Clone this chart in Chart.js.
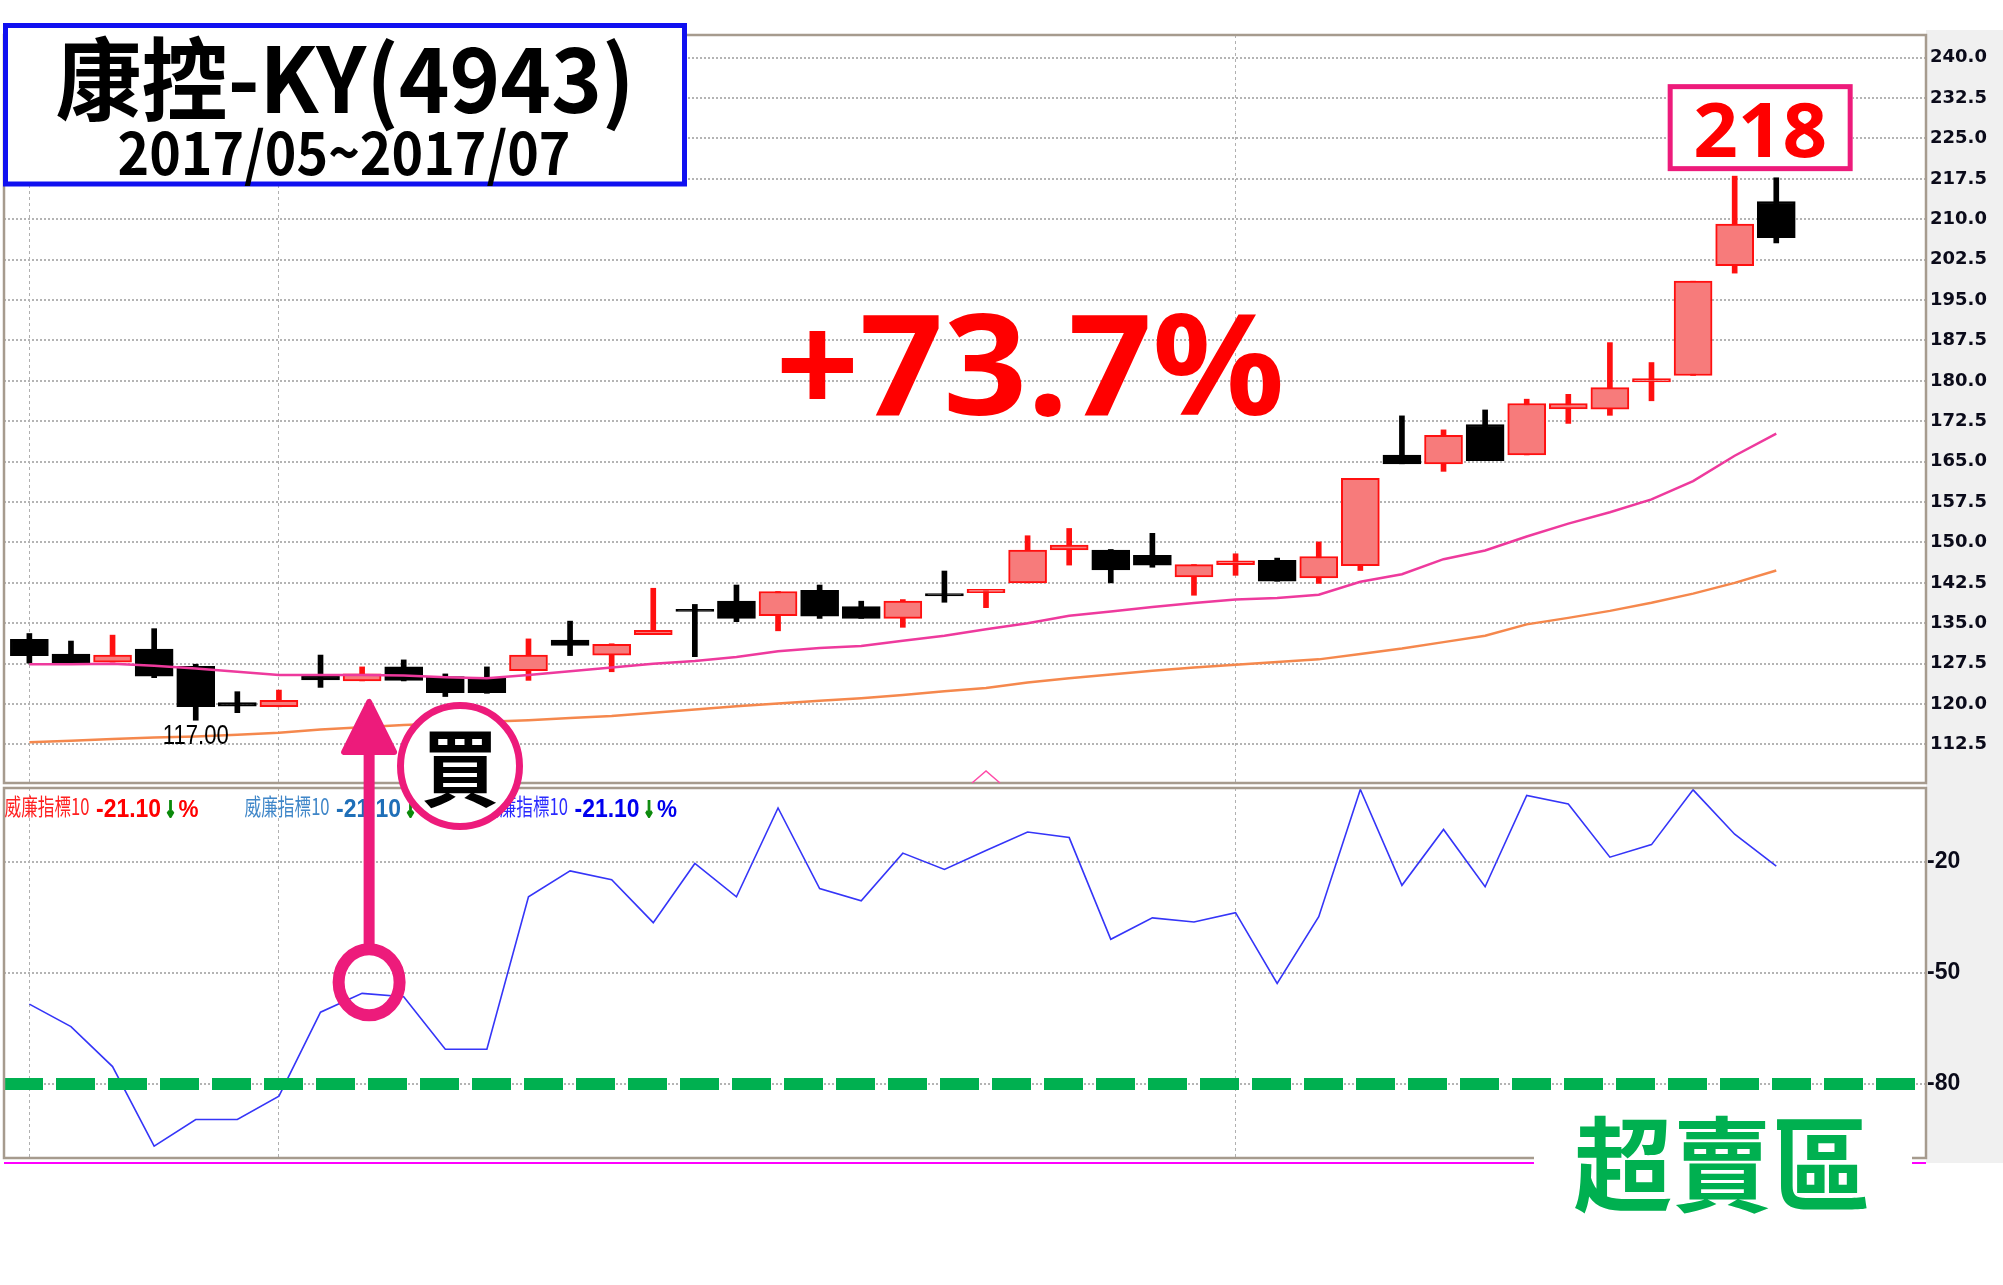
<!DOCTYPE html>
<html>
<head>
<meta charset="utf-8">
<title>康控-KY(4943)</title>
<script src="https://cdn.jsdelivr.net/npm/chart.js@4.4.1/dist/chart.umd.min.js"></script>
<style>
  html, body { margin: 0; padding: 0; background: #fff; }
  #wrap { position: relative; width: 2003px; height: 1285px; overflow: hidden; background: #fff; }
  #axisBg { position: absolute; left: 1926px; top: 30px; width: 77px; height: 1133px; background: #f0f0f0; }
  canvas { position: absolute; left: 0; }
  #upper { top: 0; }
  #lower { top: 770px; }
  #overlay { top: 0; pointer-events: none; }
</style>
</head>
<body>
<div id="wrap">
  <div id="axisBg"></div>
  <canvas id="upper" width="2003" height="800"></canvas>
  <canvas id="lower" width="2003" height="515"></canvas>
  <canvas id="overlay" width="2003" height="1285"></canvas>
</div>
<script>
'use strict';

// daily candles (red = up, black = down)
var opens  = [132.0, 129.3, 127.8, 130.2, 127.0, 120.3, 119.5, 125.3, 124.3, 126.9, 125.1, 124.9, 126.2, 131.9, 129.1, 132.9, 137.5, 139.1, 136.4, 141.1, 138.1, 135.9, 140.5, 140.7, 142.5, 148.6, 148.6, 147.6, 143.6, 145.9, 146.7, 143.4, 145.7, 166.2, 164.6, 171.9, 166.25, 174.8, 174.75, 179.8, 181.0, 201.4, 213.3];
var highs  = [133.1, 131.7, 132.8, 134.0, 127.4, 122.3, 122.6, 129.1, 126.9, 128.2, 125.6, 126.9, 132.1, 135.4, 131.2, 141.5, 138.5, 142.1, 140.9, 142.1, 139.1, 139.4, 144.7, 141.3, 151.25, 152.6, 148.7, 151.7, 145.9, 147.9, 147.1, 150.1, 161.9, 173.5, 170.9, 174.6, 176.6, 177.5, 187.1, 183.4, 198.5, 218.0, 217.7];
var lows   = [127.6, 127.5, 127.8, 124.9, 117.0, 118.4, 119.5, 123.1, 124.3, 124.3, 121.4, 122.0, 124.4, 129.0, 126.0, 132.9, 128.8, 135.3, 133.6, 135.9, 135.9, 134.25, 138.9, 137.9, 142.5, 145.8, 142.5, 145.4, 140.2, 143.9, 142.8, 142.4, 144.8, 164.6, 163.2, 165.2, 166.25, 172.1, 173.6, 176.3, 181.0, 200.0, 205.6];
var closes = [129.0, 127.6, 129.1, 125.2, 119.5, 119.6, 120.7, 124.5, 125.6, 124.4, 122.1, 122.1, 129.1, 130.9, 131.1, 133.7, 137.2, 135.9, 140.9, 136.3, 135.9, 139.1, 140.1, 141.3, 148.6, 149.5, 144.9, 145.8, 145.9, 146.6, 142.8, 147.4, 161.9, 164.6, 169.9, 165.2, 175.8, 175.8, 178.75, 180.4, 198.5, 209.1, 206.6];

// moving averages
var maShort = [127.4, 127.4, 127.5, 127.1, 126.6, 126.0, 125.4, 125.4, 125.4, 125.3, 125.0, 124.8, 125.4, 126.1, 126.8, 127.5, 128.0, 128.75, 129.8, 130.4, 130.8, 131.75, 132.7, 133.9, 135.0, 136.4, 137.2, 138.0, 138.75, 139.4, 139.7, 140.3, 142.7, 144.1, 146.9, 148.5, 151.1, 153.5, 155.6, 158.0, 161.4, 166.1, 170.2];
var maLong  = [112.9, 113.2, 113.5, 113.8, 114.0, 114.3, 114.7, 115.3, 115.7, 116.1, 116.4, 116.7, 117.0, 117.4, 117.8, 118.4, 119.0, 119.6, 120.1, 120.6, 121.1, 121.7, 122.4, 123.0, 124.0, 124.8, 125.5, 126.2, 126.8, 127.3, 127.8, 128.3, 129.3, 130.3, 131.5, 132.7, 134.8, 136.0, 137.3, 138.8, 140.5, 142.5, 144.8];

// Williams %R (10)
var williams = [-58.4, -64.5, -75.3, -96.8, -89.6, -89.6, -83.3, -60.6, -55.5, -56.4, -70.6, -70.6, -29.4, -22.4, -24.8, -36.4, -20.4, -29.4, -5.4, -27.2, -30.5, -17.6, -22.0, -16.9, -11.9, -13.4, -40.9, -35.1, -36.2, -33.7, -52.8, -34.8, -0.4, -26.3, -11.2, -26.7, -2.0, -4.3, -18.7, -15.3, -0.5, -12.5, -21.1];
var oversoldLevel = -80;

// axes
var priceTicks = [112.5, 120.0, 127.5, 135.0, 142.5, 150.0, 157.5, 165.0, 172.5, 180.0, 187.5, 195.0, 202.5, 210.0, 217.5, 225.0, 232.5, 240.0];
var wrTicks = [-20, -50, -80];
var dividerIndexes = [0, 6, 29];
var xMin = -0.61, xMax = 45.6;
var buyIndex = 8, lowIndex = 4, peakIndex = 41, markerIndex = 23;

var UP_FILL = '#f77b7b', UP_LINE = '#ff1010', DOWN = '#000000';
var PINK = '#ed1b7b';

function isUp(i) {
  return closes[i] >= opens[i];
}

var panelFrame = {
  id: 'panelFrame',
  beforeDraw: function (chart) {
    var a = chart.chartArea, c = chart.ctx;
    c.save();
    c.fillStyle = '#ffffff';
    c.fillRect(a.left, a.top, a.right - a.left, a.bottom - a.top);
    c.restore();
  },
  afterDraw: function (chart) {
    var a = chart.chartArea, c = chart.ctx;
    c.save();
    c.strokeStyle = '#a69b8e';
    c.lineWidth = 2.5;
    c.strokeRect(a.left, a.top, a.right - a.left, a.bottom - a.top);
    c.restore();
  }
};

function xAxis() {
  return {
    type: 'linear', min: xMin, max: xMax, offset: false,
    ticks: { display: false },
    grid: { color: '#b0b0b0', lineWidth: 1, drawTicks: false, offset: false },
    border: { display: false, dash: [3, 3] },
    afterBuildTicks: function (s) {
      s.ticks = dividerIndexes.map(function (v) { return { value: v }; });
    },
    afterFit: function (s) { s.height = 0; }
  };
}

var idx = opens.map(function (v, i) { return i; });

Chart.defaults.font.family = '"DejaVu Sans"';

var upperChart = new Chart(document.getElementById('upper'), {
  type: 'bar',
  data: {
    datasets: [
      {
        type: 'line', order: 0,
        data: idx.map(function (i) { return { x: i, y: maShort[i] }; }),
        borderColor: '#ee3a9d', borderWidth: 2.5, pointRadius: 0, tension: 0
      },
      {
        type: 'line', order: 0,
        data: idx.map(function (i) { return { x: i, y: maLong[i] }; }),
        borderColor: '#f5884d', borderWidth: 2.5, pointRadius: 0, tension: 0
      },
      {
        order: 1, grouped: false, barThickness: 38, minBarLength: 2,
        data: idx.map(function (i) { return { x: i, y: [opens[i], closes[i]] }; }),
        backgroundColor: function (ctx) { return isUp(ctx.dataIndex) ? UP_FILL : DOWN; },
        borderColor: function (ctx) { return isUp(ctx.dataIndex) ? UP_LINE : DOWN; },
        borderWidth: 2, borderSkipped: false
      },
      {
        order: 2, grouped: false, barThickness: 5,
        data: idx.map(function (i) { return { x: i, y: [lows[i], highs[i]] }; }),
        backgroundColor: function (ctx) { return isUp(ctx.dataIndex) ? UP_LINE : DOWN; },
        borderWidth: 0
      }
    ]
  },
  options: {
    responsive: false, animation: false,
    layout: { padding: { left: 4, top: 35, right: 0, bottom: 17 } },
    plugins: { legend: { display: false }, tooltip: { enabled: false } },
    scales: {
      x: xAxis(),
      y: {
        position: 'right', min: 105.35, max: 244.2,
        afterBuildTicks: function (s) {
          s.ticks = priceTicks.map(function (v) { return { value: v }; });
        },
        afterFit: function (s) { s.width = 77; },
        ticks: {
          padding: 4, color: '#0b0b1a',
          font: { family: '"DejaVu Sans"', size: 18, weight: 'bold' },
          callback: function (v) { return Number(v).toFixed(1); }
        },
        grid: { color: '#b4b4b4', lineWidth: 2, drawTicks: false },
        border: { display: false, dash: [2, 2] }
      }
    }
  },
  plugins: [panelFrame]
});

var lowerChart = new Chart(document.getElementById('lower'), {
  type: 'line',
  data: {
    datasets: [
      {
        order: 0,
        data: [{ x: xMin, y: oversoldLevel }, { x: xMax, y: oversoldLevel }],
        borderColor: '#00b050', borderWidth: 12, borderDash: [39, 13],
        borderCapStyle: 'butt', pointRadius: 0
      },
      {
        order: 1,
        data: idx.map(function (i) { return { x: i, y: williams[i] }; }),
        borderColor: '#3535f8', borderWidth: 1.6, pointRadius: 0, tension: 0
      }
    ]
  },
  options: {
    responsive: false, animation: false,
    layout: { padding: { left: 4, top: 18, right: 0, bottom: 127 } },
    plugins: { legend: { display: false }, tooltip: { enabled: false } },
    scales: {
      x: xAxis(),
      y: {
        position: 'right', min: -100, max: 0,
        afterBuildTicks: function (s) {
          s.ticks = wrTicks.map(function (v) { return { value: v }; });
        },
        afterFit: function (s) { s.width = 77; },
        ticks: {
          padding: 1, color: '#0b0b1a',
          font: { family: '"Liberation Sans Narrow", "Liberation Sans"', size: 23, weight: 'bold' },
          callback: function (v) { return String(v); }
        },
        grid: { color: '#b4b4b4', lineWidth: 2, drawTicks: false },
        border: { display: false, dash: [2, 2] }
      }
    }
  },
  plugins: [panelFrame]
});

// ---- annotations on top ----
function fitText(c, text, x, y, font, width, color, align, stroke) {
  c.save();
  c.font = font;
  c.fillStyle = color;
  c.textBaseline = 'alphabetic';
  c.textAlign = align || 'center';
  var w = c.measureText(text).width;
  c.translate(x, y);
  c.scale(width / w, 1);
  c.fillText(text, 0, 0);
  if (stroke) {
    c.strokeStyle = color;
    c.lineWidth = stroke;
    c.strokeText(text, 0, 0);
  }
  c.restore();
}

function drawLegendGroup(c, x0, nameColor, valueColor) {
  var last = williams[williams.length - 1].toFixed(2);
  fitText(c, '威廉指標10', x0, 815, '400 23px "Noto Sans CJK TC"', 85, nameColor, 'left');
  fitText(c, last, x0 + 91.5, 817, 'bold 26px "Liberation Sans Narrow", "Liberation Sans"', 65, valueColor, 'left');
  fitText(c, '↓', x0 + 160.5, 817, 'bold 22px "DejaVu Sans"', 11, '#0b8a0b', 'left', 2);
  fitText(c, '%', x0 + 174, 817, 'bold 24px "Liberation Sans"', 20, valueColor, 'left');
}

function drawOverlay() {
  var c = document.getElementById('overlay').getContext('2d');
  var xs = upperChart.scales.x, ys = upperChart.scales.y;
  var lowerTop = 770, ly = lowerChart.scales.y;

  // title box
  c.fillStyle = '#fff';
  c.fillRect(5, 25, 680, 160);
  c.strokeStyle = '#1010f0';
  c.lineWidth = 5;
  c.strokeRect(5.5, 25.5, 679, 158.5);
  fitText(c, '康控-KY(4943)', 345, 113, 'bold 90px "Noto Sans CJK TC"', 579, '#000');
  fitText(c, '2017/05~2017/07', 344, 175, 'bold 59px "Noto Sans CJK TC"', 453, '#000');

  // gain
  fitText(c, '+73.7%', 1030, 415, 'bold 140px "Noto Sans"', 509, '#ff0000');

  // peak box
  var px = xs.getPixelForValue(peakIndex), py = ys.getPixelForValue(highs[peakIndex]);
  var bl = px - 67, br = px + 118, bb = py - 5, bt = bb - 87;
  c.fillStyle = '#fff';
  c.fillRect(bl, bt, br - bl, bb - bt);
  c.strokeStyle = PINK;
  c.lineWidth = 5;
  c.strokeRect(bl + 2.5, bt + 2.5, br - bl - 5, bb - bt - 5);
  fitText(c, highs[peakIndex].toFixed(0), (bl + br) / 2, bb - 14, 'bold 76px "Noto Sans"', 134, '#ff0000');

  // low label
  fitText(c, lows[lowIndex].toFixed(2), xs.getPixelForValue(lowIndex), ys.getPixelForValue(lows[lowIndex]) + 24,
    '27px "Liberation Sans Narrow", "Liberation Sans"', 66, '#000');

  // small marker at bottom of price panel
  var mx = xs.getPixelForValue(markerIndex);
  c.strokeStyle = '#ff4aa8';
  c.lineWidth = 1.5;
  c.beginPath();
  c.moveTo(mx - 14, 783); c.lineTo(mx, 771); c.lineTo(mx + 14, 783);
  c.stroke();

  // indicator legends
  drawLegendGroup(c, 4.5, '#ff2020', '#ff0000');
  drawLegendGroup(c, 244.6, '#3f86c8', '#1f6fb8');
  drawLegendGroup(c, 483, '#2a2aff', '#0000ee');

  // magenta base line under the indicator panel
  c.strokeStyle = '#ff00ff';
  c.lineWidth = 2;
  c.beginPath();
  c.moveTo(4, 1163); c.lineTo(1926, 1163);
  c.stroke();

  // buy arrow
  var ax = xs.getPixelForValue(buyIndex) + 7;
  var ringY = lowerTop + ly.getPixelForValue(-52.5);
  c.strokeStyle = PINK;
  c.fillStyle = PINK;
  c.lineCap = 'round';
  c.lineJoin = 'round';
  c.lineWidth = 11;
  c.beginPath();
  c.moveTo(ax, 735); c.lineTo(ax, ringY - 38);
  c.stroke();
  c.lineWidth = 6;
  c.beginPath();
  c.moveTo(ax, 702); c.lineTo(ax - 25, 752); c.lineTo(ax + 25, 752); c.closePath();
  c.fill(); c.stroke();
  c.lineWidth = 12;
  c.beginPath();
  c.ellipse(ax, ringY, 30.5, 33, 0, 0, Math.PI * 2);
  c.stroke();

  // 買 badge
  c.fillStyle = '#fff';
  c.beginPath();
  c.ellipse(460, 766, 59.5, 60.5, 0, 0, Math.PI * 2);
  c.fill();
  c.lineWidth = 7;
  c.stroke();
  fitText(c, '買', 460, 800, 'bold 84px "Noto Sans CJK TC"', 77, '#000');

  // oversold label
  c.fillStyle = '#fff';
  c.fillRect(1534, 1150, 378, 80);
  fitText(c, '超賣區', 1722, 1204, 'bold 103px "Noto Sans CJK TC"', 297, '#00b050');
}

drawOverlay();
</script>
</body>
</html>
